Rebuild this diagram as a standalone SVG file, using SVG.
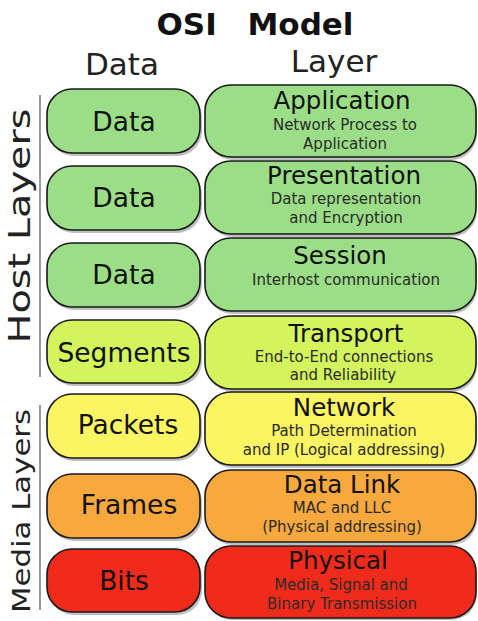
<svg xmlns="http://www.w3.org/2000/svg" width="478" height="621" viewBox="0 0 478 621">
<defs>
<style>
text{font-family:"DejaVu Sans","Verdana",sans-serif;fill:#111;text-anchor:middle}
.title{font-weight:bold;font-size:31px;word-spacing:20px}
.hdr{font-size:31px;fill:#222}
.side{font-size:30px;fill:#222}
.lbl{font-size:26.5px}
.lt{font-size:24.5px}
.sub{font-size:15px;fill:#2a2a2a}
.box{stroke:#1a1a1a;stroke-width:1.6}
.sh{fill:#8a8a8a;opacity:0.55}
.g{fill:#9bde87}.yg{fill:#d3f45c}.y{fill:#fbf463}.o{fill:#f8a93d}.r{fill:#f02b1b}
.sep{stroke:#9a9a9a;stroke-width:2;fill:none}
</style>
</defs>
<rect width="478" height="621" fill="#fff"/>
<text class="title" x="255" y="35">OSI Model</text>
<text class="hdr" x="122" y="75">Data</text>
<text class="hdr" x="334" y="72">Layer</text>
<g id="host-layers">
<line class="sep" x1="40" y1="95" x2="40" y2="377"/>
<text class="side" transform="translate(30,226) rotate(-90)" textLength="235" lengthAdjust="spacingAndGlyphs">Host Layers</text>
</g>
<g id="media-layers">
<line class="sep" x1="40" y1="405" x2="40" y2="610"/>
<text class="side" style="font-size:24px" transform="translate(30,511) rotate(-90)" textLength="204" lengthAdjust="spacingAndGlyphs">Media Layers</text>
</g>
<g id="row-application">
<rect class="sh" x="49" y="92" width="153" height="64" rx="25"/>
<rect class="box g" x="47" y="89" width="153" height="64" rx="25"/>
<text class="lbl" x="124" y="131">Data</text>
<rect class="sh" x="207" y="88" width="270" height="72" rx="26"/>
<rect class="box g" x="205" y="85" width="271" height="72" rx="26"/>
<text class="lt" x="342" y="109">Application</text>
<text class="sub" x="345" y="130">Network Process to</text>
<text class="sub" x="345" y="149">Application</text>
</g>
<g id="row-presentation">
<rect class="sh" x="49" y="169" width="153" height="64" rx="25"/>
<rect class="box g" x="47" y="166" width="153" height="64" rx="25"/>
<text class="lbl" x="124" y="207">Data</text>
<rect class="sh" x="207" y="164" width="270" height="73" rx="26"/>
<rect class="box g" x="205" y="161" width="271" height="73" rx="26"/>
<text class="lt" x="344" y="184">Presentation</text>
<text class="sub" x="346" y="204">Data representation</text>
<text class="sub" x="346" y="223">and Encryption</text>
</g>
<g id="row-session">
<rect class="sh" x="49" y="246" width="153" height="64" rx="25"/>
<rect class="box g" x="47" y="243" width="153" height="64" rx="25"/>
<text class="lbl" x="124" y="284">Data</text>
<rect class="sh" x="207" y="241" width="270" height="73" rx="26"/>
<rect class="box g" x="205" y="238" width="271" height="73" rx="26"/>
<text class="lt" x="340" y="264">Session</text>
<text class="sub" x="346" y="285">Interhost communication</text>
</g>
<g id="row-transport">
<rect class="sh" x="49" y="323" width="153" height="63" rx="25"/>
<rect class="box yg" x="47" y="320" width="153" height="63" rx="25"/>
<text class="lbl" x="124" y="362">Segments</text>
<rect class="sh" x="207" y="319" width="270" height="73" rx="26"/>
<rect class="box yg" x="205" y="316" width="271" height="73" rx="26"/>
<text class="lt" x="346" y="342">Transport</text>
<text class="sub" x="344" y="362">End-to-End connections</text>
<text class="sub" x="343" y="380">and Reliability</text>
</g>
<g id="row-network">
<rect class="sh" x="49" y="397" width="153" height="64" rx="25"/>
<rect class="box y" x="47" y="394" width="153" height="64" rx="25"/>
<text class="lbl" x="128" y="434">Packets</text>
<rect class="sh" x="207" y="395" width="270" height="73" rx="26"/>
<rect class="box y" x="205" y="392" width="271" height="73" rx="26"/>
<text class="lt" x="344" y="416">Network</text>
<text class="sub" x="344" y="436">Path Determination</text>
<text class="sub" x="344" y="455">and IP (Logical addressing)</text>
</g>
<g id="row-datalink">
<rect class="sh" x="49" y="477" width="153" height="64" rx="25"/>
<rect class="box o" x="47" y="474" width="153" height="64" rx="25"/>
<text class="lbl" x="129" y="514">Frames</text>
<rect class="sh" x="207" y="473" width="270" height="72" rx="26"/>
<rect class="box o" x="205" y="470" width="271" height="72" rx="26"/>
<text class="lt" x="342" y="493">Data Link</text>
<text class="sub" x="342" y="513">MAC and LLC</text>
<text class="sub" x="342" y="532">(Physical addressing)</text>
</g>
<g id="row-physical">
<rect class="sh" x="49" y="552" width="153" height="63" rx="25"/>
<rect class="box r" x="47" y="549" width="153" height="63" rx="25"/>
<text class="lbl" x="124" y="590">Bits</text>
<rect class="sh" x="207" y="549" width="270" height="71" rx="26"/>
<rect class="box r" x="205" y="546" width="271" height="72" rx="26"/>
<text class="lt" x="338" y="569">Physical</text>
<text class="sub" x="341" y="590">Media, Signal and</text>
<text class="sub" x="342" y="609">Binary Transmission</text>
</g>
</svg>
